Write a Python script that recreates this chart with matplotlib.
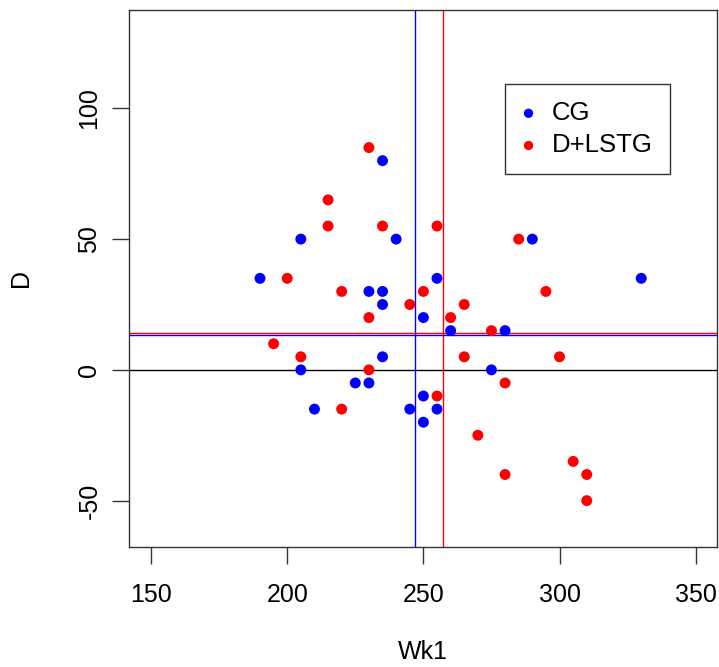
import matplotlib
matplotlib.use("Agg")
import matplotlib.pyplot as plt

plt.rcParams['font.family'] = ['Liberation Sans', 'DejaVu Sans']
plt.rcParams['axes.unicode_minus'] = False

# week-1 value and D for each subject, split by group
cg_wk1 = [235, 205, 190, 230, 235, 235, 205, 235, 225, 230, 210, 240,
          290, 255, 250, 260, 280, 275, 250, 245, 255, 250, 330]
cg_d = [80, 50, 35, 30, 30, 25, 0, 5, -5, -5, -15, 50,
        50, 35, 20, 15, 15, 0, -10, -15, -15, -20, 35]

lstg_wk1 = [230, 215, 215, 235, 200, 220, 230, 195, 205, 230, 220, 255,
            285, 250, 295, 245, 265, 260, 275, 265, 300, 280, 255, 270,
            305, 280, 310, 310]
lstg_d = [85, 65, 55, 55, 35, 30, 20, 10, 5, 0, -15, 55,
          50, 30, 30, 25, 25, 20, 15, 5, 5, -5, -10, -25,
          -35, -40, -40, -50]

# reference lines per group
cg_vline, cg_hline = 246.8, 13.3
lstg_vline, lstg_hline = 257.2, 14.2

xticks = [150, 200, 250, 300, 350]
yticks = [-50, 0, 50, 100]

fig = plt.figure(figsize=(7.19, 6.67), dpi=100)
ax = fig.add_axes([0.1798, 0.1804, 0.8181, 0.8046])

ax.axhline(0, color='black', lw=1)
ax.axvline(cg_vline, color='blue', lw=1)
ax.axvline(lstg_vline, color='red', lw=1)
ax.axhline(cg_hline, color='blue', lw=1)
ax.axhline(lstg_hline, color='red', lw=1)

ax.scatter(cg_wk1, cg_d, s=62, color='blue', edgecolors='none', zorder=3, label='CG')
ax.scatter(lstg_wk1, lstg_d, s=62, color='red', edgecolors='none', zorder=3, label='D+LSTG')

ax.set_xlim(142, 358)
ax.set_ylim(-67.6, 137.6)
ax.set_xticks(xticks)
ax.set_yticks(yticks)
ax.tick_params(axis='both', length=12, width=1, color='#333333', labelsize=18)
ax.tick_params(axis='x', pad=14)
ax.tick_params(axis='y', pad=8)
for lab in ax.get_yticklabels():
    lab.set_rotation(90)
    lab.set_va('center')

for sp in ax.spines.values():
    sp.set_color('#333333')
    sp.set_linewidth(1)

ax.set_xlabel('Wk1', fontsize=18, labelpad=24)
ax.set_ylabel('D', fontsize=18, labelpad=32)

leg = ax.legend(loc='upper left', bbox_to_anchor=(0.639, 0.862), borderaxespad=0,
                fontsize=18.5, frameon=True, fancybox=False, markerscale=0.85,
                handletextpad=0.66, borderpad=0.66, labelspacing=0.32,
                handlelength=0.5, scatterpoints=1)
leg.get_frame().set_edgecolor('black')
leg.get_frame().set_linewidth(1)

fig.savefig('out.png', dpi=100)
